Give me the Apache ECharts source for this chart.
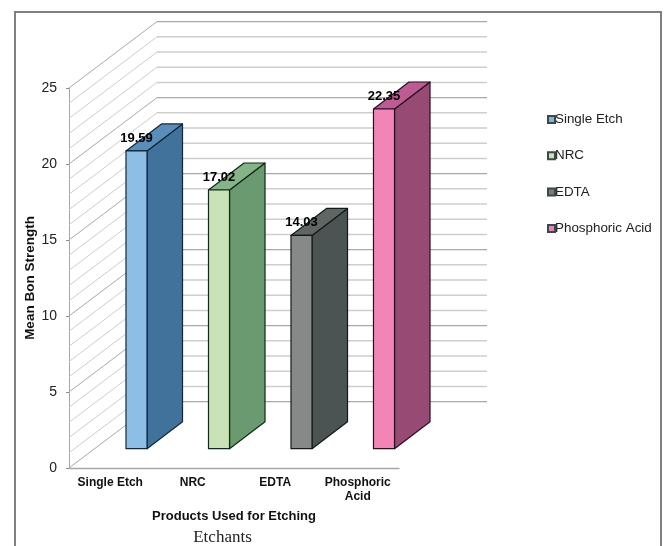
<!DOCTYPE html>
<html>
<head>
<meta charset="utf-8">
<style>html,body{margin:0;padding:0;background:#fff}#chart{width:665px;height:546px}</style>
<script src="https://cdn.jsdelivr.net/npm/echarts@6/dist/echarts.min.js"></script>
</head>
<body>
<div id="chart"></div>
<script>
// Mean bond strength per etching product
const categories = ['Single Etch', 'NRC', 'EDTA', 'Phosphoric\nAcid'];
const seriesNames = ['Single Etch', 'NRC', 'EDTA', 'Phosphoric Acid'];
const singleEtch = [19.59];
const nrc = [17.02];
const edta = [14.03];
const phosphoricAcid = [22.35];
const gridLevels = [0,1,2,3,4,5,6,7,8,9,10,11,12,13,14,15,16,17,18,19,20,21,22,23,24,25];

// Projection of the pseudo-3D box, in pixels
const WALL = { dx: 88, dy: -66.4 };
const BAR_FRONT = { dx: 26.25, dy: -19.3 };
const BAR_DEPTH = { dx: 35.5, dy: -27 };
const BAR_WIDTH_RATIO = 0.255;

const palette = [
  { front: '#8dbfe6', side: '#41729b', top: '#5a8db9', edge: '#12283a', key: '#7ab6e2' },
  { front: '#c9e3b7', side: '#6a9a6f', top: '#85b489', edge: '#12281a', key: '#c6e3b2' },
  { front: '#868987', side: '#4b5353', top: '#5f6664', edge: '#141a1a', key: '#7a7d7b' },
  { front: '#f285b6', side: '#964a74', top: '#bd5c93', edge: '#2a0f20', key: '#f07fb2' }
];

function renderGridLine(params, api) {
  const cs = params.coordSys;
  const y = api.coord([0, api.value(1)])[1];
  const major = api.value(1) % 5 === 0;
  const stroke = major ? '#a9a9a9' : '#cdcdcd';
  const lw = major ? 1.4 : 1.5;
  return {
    type: 'group',
    children: [
      { type: 'line', shape: { x1: cs.x, y1: y, x2: cs.x + WALL.dx, y2: y + WALL.dy },
        style: { stroke: stroke, lineWidth: 1 } },
      { type: 'line', shape: { x1: cs.x + WALL.dx, y1: y + WALL.dy, x2: cs.x + cs.width + WALL.dx, y2: y + WALL.dy },
        style: { stroke: stroke, lineWidth: lw } }
    ]
  };
}

function barRenderer(colors) {
  return function (params, api) {
    const value = api.value(1);
    const base = api.coord([api.value(0), 0]);
    const tip = api.coord([api.value(0), value]);
    const w = api.size([1, 0])[0] * BAR_WIDTH_RATIO;
    const x0 = base[0] + BAR_FRONT.dx - w / 2;
    const x1 = x0 + w;
    const yb = base[1] + BAR_FRONT.dy;
    const yt = tip[1] + BAR_FRONT.dy;
    const dx = BAR_DEPTH.dx, dy = BAR_DEPTH.dy;
    const edge = { stroke: colors.edge, lineWidth: 1.2, lineJoin: 'round' };
    return {
      type: 'group',
      children: [
        { type: 'polygon', shape: { points: [[x1, yb], [x1 + dx, yb + dy], [x1 + dx, yt + dy], [x1, yt]] },
          style: Object.assign({ fill: colors.side }, edge) },
        { type: 'polygon', shape: { points: [[x0, yt], [x1, yt], [x1 + dx, yt + dy], [x0 + dx, yt + dy]] },
          style: Object.assign({ fill: colors.top }, edge) },
        { type: 'rect', shape: { x: x0, y: yt, width: w, height: yb - yt },
          style: Object.assign({ fill: colors.front }, edge) },
        { type: 'text', z2: 10, style: { x: (x0 + x1) / 2, y: yt - 13, text: value.toFixed(2),
            align: 'center', verticalAlign: 'middle', fill: '#000',
            font: 'bold 13px "Liberation Sans", Arial, sans-serif' } }
      ]
    };
  };
}

const barValues = [singleEtch, nrc, edta, phosphoricAcid];
const barSeries = seriesNames.map(function (name, i) {
  return {
    name: name,
    type: 'custom',
    renderItem: barRenderer(palette[i]),
    data: barValues[i].map(function (v) { return [i, v]; }),
    encode: { x: 0, y: 1 },
    itemStyle: { color: palette[i].key, borderColor: '#3a4a4a', borderWidth: 0.8 },
    z: 3
  };
});

const chart = echarts.init(document.getElementById('chart'), null, { renderer: 'canvas' });
chart.setOption({
  animation: false,
  backgroundColor: '#ffffff',
  textStyle: { fontFamily: '"Liberation Sans", Arial, sans-serif' },
  grid: { left: 69, top: 88, width: 330, height: 380, containLabel: false },
  xAxis: {
    type: 'category',
    data: categories,
    axisLine: { lineStyle: { color: '#a6a6a6', width: 1.4 } },
    axisTick: { show: false },
    axisLabel: { color: '#111', fontWeight: 'bold', fontSize: 12, lineHeight: 14, margin: 8, interval: 0 },
    name: 'Products Used for Etching',
    nameLocation: 'middle',
    nameGap: 42,
    nameTextStyle: { color: '#111', fontWeight: 'bold', fontSize: 13 }
  },
  yAxis: {
    type: 'value',
    min: 0,
    max: 25,
    interval: 5,
    splitLine: { show: false },
    axisLine: { show: true, lineStyle: { color: '#a6a6a6', width: 1 } },
    axisTick: { show: true, length: 3, lineStyle: { color: '#8c8c8c' } },
    axisLabel: { color: '#222', fontSize: 14, margin: 12 },
    name: 'Mean Bon Strength',
    nameLocation: 'middle',
    nameGap: 29,
    nameTextStyle: { color: '#111', fontWeight: 'bold', fontSize: 13.5 }
  },
  legend: {
    orient: 'vertical',
    left: 547,
    top: 111.5,
    padding: 0,
    itemWidth: 7,
    itemHeight: 7,
    itemGap: 20.3,
    icon: 'rect',
    selectedMode: false,
    textStyle: { color: '#222', fontSize: 13.4, padding: [0, 0, 0, -5], lineHeight: 16 },
    data: seriesNames
  },
  title: {
    text: 'Etchants',
    left: 222.5,
    top: 529,
    textAlign: 'center',
    padding: 0,
    textStyle: { color: '#222', fontSize: 17, fontWeight: 'normal', fontFamily: '"Liberation Serif", "Times New Roman", serif' }
  },
  graphic: [{
    type: 'polyline',
    silent: true,
    shape: { points: [[15, 546], [15, 12], [661, 12], [661, 546]] },
    style: { stroke: '#808080', lineWidth: 2, fill: null }
  }],
  series: [{
    name: 'gridlines',
    type: 'custom',
    renderItem: renderGridLine,
    data: gridLevels.map(function (v) { return [0, v]; }),
    encode: { x: 0, y: 1 },
    silent: true,
    z: 1
  }].concat(barSeries)
});
</script>
</body>
</html>
